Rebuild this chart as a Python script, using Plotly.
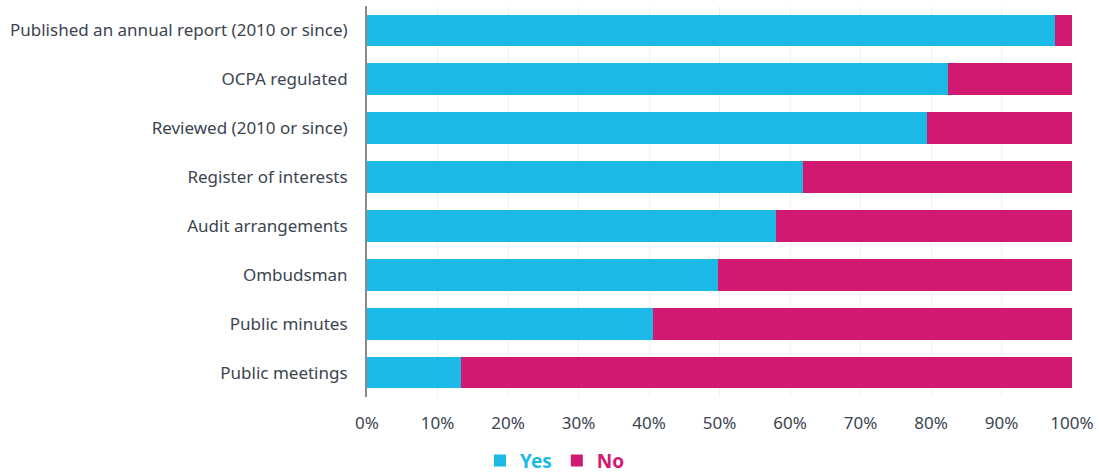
import plotly.graph_objects as go

categories = [
    "Published an annual report (2010 or since)",
    "OCPA regulated",
    "Reviewed (2010 or since)",
    "Register of interests",
    "Audit arrangements",
    "Ombudsman",
    "Public minutes",
    "Public meetings",
]
yes_values = [97.6, 82.4, 79.4, 61.8, 58.0, 49.8, 40.6, 13.3]
no_values = [2.4, 17.6, 20.6, 38.2, 42.0, 50.2, 59.4, 86.7]
tick_vals = [0, 10, 20, 30, 40, 50, 60, 70, 80, 90, 100]
tick_text = [f"{v}%" for v in tick_vals]

YES_COLOR = "#1ab9e6"
NO_COLOR = "#d01a72"
TEXT_COLOR = "#3b4450"

fig = go.Figure()
fig.add_trace(go.Bar(
    y=categories, x=yes_values, orientation="h",
    name=f"<span style='color:{YES_COLOR}'><b>Yes</b></span>",
    marker=dict(color=YES_COLOR, line=dict(width=0)),
))
fig.add_trace(go.Bar(
    y=categories, x=no_values, orientation="h",
    name=f"<span style='color:{NO_COLOR}'><b>No</b></span>",
    marker=dict(color=NO_COLOR, line=dict(width=0)),
))

fig.update_layout(
    barmode="stack",
    bargap=0.35,
    width=1099, height=475,
    margin=dict(l=367, r=27, t=6, b=78, autoexpand=False),
    plot_bgcolor="white",
    paper_bgcolor="white",
    font=dict(family="Noto Sans, Open Sans, sans-serif", color=TEXT_COLOR, size=16),
    xaxis=dict(
        range=[0, 100],
        tickvals=tick_vals, ticktext=tick_text,
        showgrid=True, gridcolor="#eef2f5", gridwidth=1,
        zeroline=False,
        showline=False,
        ticks="", ticklabelstandoff=14,
        tickfont=dict(size=17, color=TEXT_COLOR),
    ),
    yaxis=dict(
        categoryorder="array", categoryarray=categories[::-1],
        showline=True, linecolor="#8a8a8a", linewidth=2,
        showgrid=False,
        ticks="", ticklabelstandoff=14,
        tickfont=dict(size=17, color=TEXT_COLOR),
    ),
    legend=dict(
        orientation="h",
        xref="container", yref="container",
        x=0.505, y=0.03, xanchor="center", yanchor="middle",
        font=dict(size=19),
        itemwidth=30,
        traceorder="normal",
    ),
)

fig.write_html("out.html")
